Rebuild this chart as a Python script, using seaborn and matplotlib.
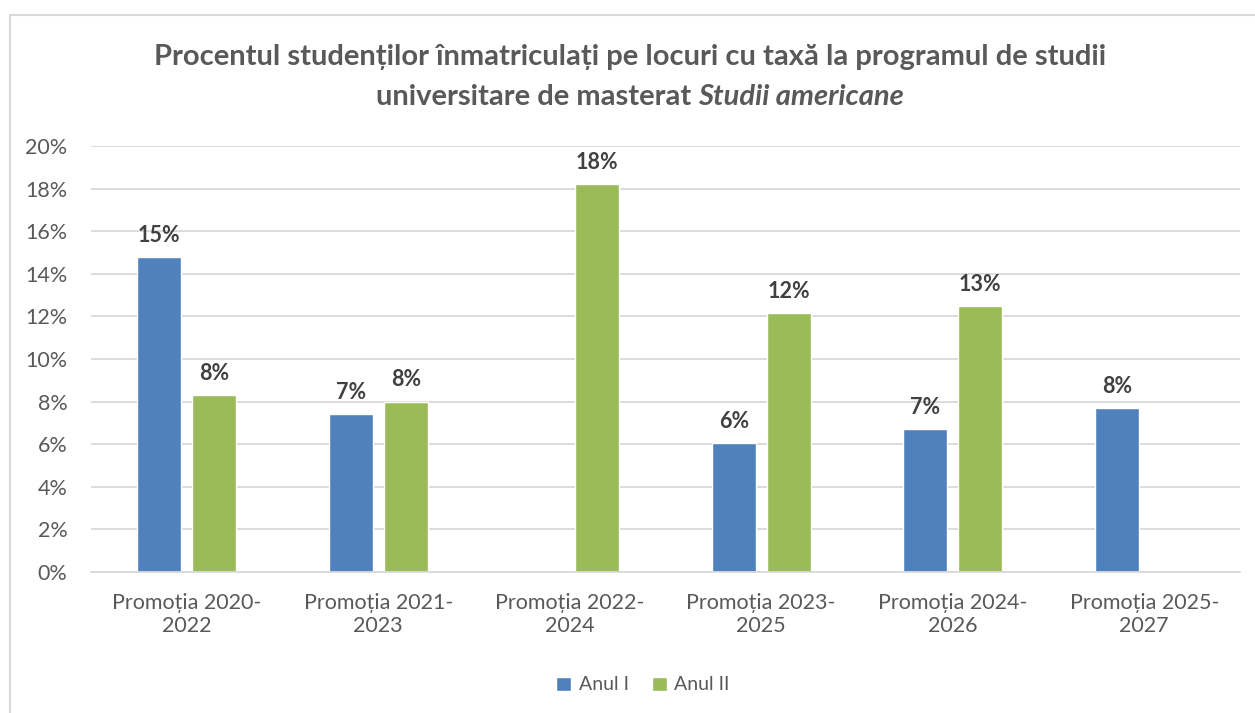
import matplotlib
matplotlib.use("Agg")
import matplotlib.pyplot as plt
import matplotlib.patches as mpatches
import seaborn as sns
import numpy as np
import pandas as pd

# date (procente)
promotii = ["Promoția 2020-\n2022", "Promoția 2021-\n2023", "Promoția 2022-\n2024",
            "Promoția 2023-\n2025", "Promoția 2024-\n2026", "Promoția 2025-\n2027"]
anul_1 = [14.8, 7.4, np.nan, 6.05, 6.7, 7.7]
anul_2 = [8.3, 8.0, 18.2, 12.15, 12.5, np.nan]
serii = ["Anul I", "Anul II"]
culori = ["#4F81BD", "#9BBB59"]
yticks = [0, 2, 4, 6, 8, 10, 12, 14, 16, 18, 20]

df = pd.DataFrame({
    "promotie": promotii * 2,
    "an": [serii[0]] * len(promotii) + [serii[1]] * len(promotii),
    "procent": anul_1 + anul_2,
})

sns.set_theme(style="white")
plt.rcParams["font.family"] = ["Lato", "DejaVu Sans"]
gri = "#595959"

fig = plt.figure(figsize=(12.55, 7.13), dpi=100)
ax = fig.add_axes([91 / 1255, 1 - 572 / 713, (1240 - 91) / 1255, (572 - 146) / 713])

sns.barplot(data=df, x="promotie", y="procent", hue="an", order=promotii,
            hue_order=serii, palette=culori, width=0.575, gap=0.2,
            errorbar=None, saturation=1, ax=ax, legend=True)

for cont in ax.containers:
    ax.bar_label(cont, fmt=lambda v: f"{int(v + 0.5)}%", padding=8,
                 fontsize=15.5, fontweight="bold", color="#404040")

ax.set_ylim(0, 20)
ax.set_yticks(yticks)
ax.set_yticklabels([f"{t}%" for t in yticks])
ax.set_xlim(-0.5, len(promotii) - 0.5)
ax.grid(axis="y", color="#D9D9D9", linewidth=1.3)
ax.set_axisbelow(True)
for s in ["top", "right", "left"]:
    ax.spines[s].set_visible(False)
ax.spines["bottom"].set_color("#D9D9D9")
ax.spines["bottom"].set_linewidth(1.3)
ax.tick_params(axis="both", length=0, labelsize=15.5, labelcolor=gri)
ax.tick_params(axis="x", pad=15)
ax.tick_params(axis="y", pad=17)
ax.set_xlabel("")
ax.set_ylabel("")

# legenda jos
leg = ax.legend(loc="center", bbox_to_anchor=(643 / 1255, 1 - 685 / 713),
                bbox_transform=fig.transFigure, ncol=2, frameon=False,
                fontsize=14, handlelength=0.75, handleheight=0.75,
                handletextpad=0.4, columnspacing=1.2)
for t in leg.get_texts():
    t.set_color(gri)

# chenarul graficului
fig.patches.append(mpatches.Rectangle((10 / 1255, -0.1), 1.1, 1 - 15 / 713 + 0.1,
                                      transform=fig.transFigure, fill=False,
                                      edgecolor="#D9D9D9", linewidth=1.5))

# titlu pe doua randuri, cu partea italica
kw = dict(fontsize=21, fontweight="bold", color=gri, va="center")
fig.text(630 / 1255, 1 - 57 / 713,
         "Procentul studenților înmatriculați pe locuri cu taxă la programul de studii",
         ha="center", **kw)
t1 = fig.text(0, 1 - 97 / 713, "universitare de masterat ", ha="left", **kw)
t2 = fig.text(0, 1 - 97 / 713, "Studii americane", ha="left", style="italic", **kw)
r = fig.canvas.get_renderer()
w1 = t1.get_window_extent(r).width
w2 = t2.get_window_extent(r).width
x0 = 640 - (w1 + w2) / 2
t1.set_x(x0 / 1255)
t2.set_x((x0 + w1) / 1255)

fig.savefig("out.png", dpi=100)
